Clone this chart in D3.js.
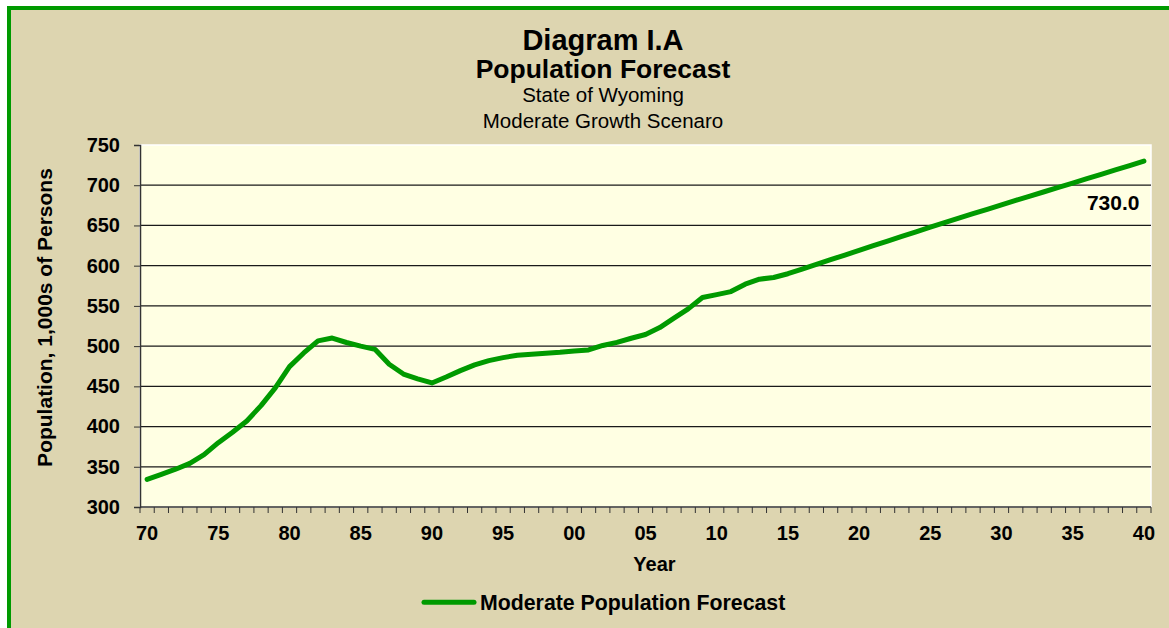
<!DOCTYPE html>
<html>
<head>
<meta charset="utf-8">
<script src="https://cdn.jsdelivr.net/npm/d3@7"></script>
<style>
  html, body { margin: 0; padding: 0; background: #ffffff; }
  svg { display: block; font-family: "Liberation Sans", Arial, sans-serif; }
</style>
</head>
<body>
<svg id="chart" width="1169" height="628"></svg>
<script>
// ---- data ----
const years = d3.range(1970, 2041);
const population = [
  334.4, 340.5, 347.0, 354.3, 365.0, 380.0, 393.0, 407.0, 426.0, 448.0,
  474.5, 491.5, 506.5, 510.0, 504.5, 500.0, 496.0, 477.5, 465.3, 459.3,
  454.2, 461.6, 469.5, 476.6, 482.0, 485.7, 488.6, 490.0, 491.2, 492.4,
  494.0, 495.3, 500.8, 504.6, 509.8, 514.4, 523.0, 534.7, 546.3, 560.4,
  564.0, 567.8, 577.0, 583.2, 585.3, 590.0, 595.8, 601.6, 607.4, 613.2,
  619.0, 624.8, 630.6, 636.4, 642.1, 647.8, 653.4, 659.0, 664.6, 670.1,
  675.6, 681.1, 686.5, 691.9, 697.3, 702.7, 708.1, 713.6, 719.0, 724.5,
  730.0
];
const yTicks = [300, 350, 400, 450, 500, 550, 600, 650, 700, 750];
const xLabelYears = d3.range(1970, 2041, 5);
const titleLines = ["Diagram I.A", "Population Forecast", "State of Wyoming", "Moderate Growth Scenaro"];
const seriesName = "Moderate Population Forecast";
const endLabel = "730.0";

// ---- layout ----
const svg = d3.select("#chart");
const plot = { left: 140, right: 1151, top: 145, bottom: 507 };
const green = "#009a00";
const beige = "#ddd5b0";
const plotFill = "#ffffe3";

// outer frame
svg.append("rect").attr("x", 9).attr("y", 8).attr("width", 1300).attr("height", 800)
  .attr("fill", beige).attr("stroke", green).attr("stroke-width", 4);

const x = d3.scaleBand().domain(years).range([plot.left, plot.right]).padding(0);
const y = d3.scaleLinear().domain([300, 750]).range([plot.bottom, plot.top]);

// plot area
svg.append("rect").attr("x", plot.left).attr("y", plot.top)
  .attr("width", plot.right - plot.left).attr("height", plot.bottom - plot.top)
  .attr("fill", plotFill).attr("stroke", "#ffffff").attr("stroke-width", 1.5);

// gridlines
svg.append("g").selectAll("line").data(yTicks.filter(v => v > 300 && v < 750)).join("line")
  .attr("x1", plot.left).attr("x2", plot.right)
  .attr("y1", d => y(d)).attr("y2", d => y(d))
  .attr("stroke", "#1a1a1a").attr("stroke-width", 1.2);

// y axis
const yAxis = svg.append("g").attr("transform", `translate(${plot.left},0)`)
  .call(d3.axisLeft(y).tickValues(yTicks).tickSize(6).tickPadding(14).tickFormat(d3.format("d")));
yAxis.select(".domain").attr("stroke", "#333").attr("stroke-width", 1.5);
yAxis.selectAll(".tick line").attr("stroke", "#333");
yAxis.selectAll(".tick text").attr("font-size", 20).attr("font-weight", "bold")
  .attr("fill", "#000").attr("font-family", "Liberation Sans, Arial, sans-serif");

// x axis: tick marks at category boundaries
const boundaries = years.map(d => x(d)).concat([plot.right]);
svg.append("g").selectAll("line").data(boundaries).join("line")
  .attr("x1", d => d).attr("x2", d => d)
  .attr("y1", plot.bottom).attr("y2", plot.bottom + 6)
  .attr("stroke", "#333").attr("stroke-width", 1);
svg.append("line").attr("x1", plot.left).attr("x2", plot.right)
  .attr("y1", plot.bottom).attr("y2", plot.bottom)
  .attr("stroke", "#333").attr("stroke-width", 1.5);

// x labels at category centers
const xAxis = svg.append("g").attr("transform", `translate(0,${plot.bottom})`)
  .call(d3.axisBottom(x).tickValues(xLabelYears).tickSize(0).tickPadding(19)
    .tickFormat(d => String(d % 100).padStart(2, "0")));
xAxis.select(".domain").remove();
xAxis.selectAll(".tick text").attr("font-size", 20).attr("font-weight", "bold")
  .attr("fill", "#000").attr("font-family", "Liberation Sans, Arial, sans-serif");

// series line
const line = d3.line().x((d, i) => x(years[i]) + x.bandwidth() / 2).y(d => y(d));
svg.append("path").datum(population).attr("d", line)
  .attr("fill", "none").attr("stroke", green).attr("stroke-width", 5)
  .attr("stroke-linejoin", "round").attr("stroke-linecap", "round");

// end label
svg.append("text").attr("x", 1139.5).attr("y", 210).attr("text-anchor", "end")
  .attr("font-size", 21).attr("font-weight", "bold").text(endLabel);

// titles
const tcx = 603;
svg.append("text").attr("x", tcx).attr("y", 50).attr("text-anchor", "middle")
  .attr("font-size", 29).attr("font-weight", "bold").text(titleLines[0]);
svg.append("text").attr("x", tcx).attr("y", 78).attr("text-anchor", "middle")
  .attr("font-size", 26.5).attr("font-weight", "bold").text(titleLines[1]);
svg.append("text").attr("x", tcx).attr("y", 102).attr("text-anchor", "middle")
  .attr("font-size", 20.5).text(titleLines[2]);
svg.append("text").attr("x", tcx).attr("y", 128).attr("text-anchor", "middle")
  .attr("font-size", 20.5).text(titleLines[3]);

// axis titles
svg.append("text").attr("transform", "translate(51.5,317.5) rotate(-90)")
  .attr("text-anchor", "middle").attr("font-size", 21).attr("font-weight", "bold")
  .text("Population, 1,000s of Persons");
svg.append("text").attr("x", 654.5).attr("y", 570.5).attr("text-anchor", "middle")
  .attr("font-size", 20).attr("font-weight", "bold").text("Year");

// legend
svg.append("line").attr("x1", 424).attr("x2", 474).attr("y1", 602.3).attr("y2", 602.3)
  .attr("stroke", green).attr("stroke-width", 5).attr("stroke-linecap", "round");
svg.append("text").attr("x", 480).attr("y", 610).attr("font-size", 21.3)
  .attr("font-weight", "bold").text(seriesName);
</script>
</body>
</html>
